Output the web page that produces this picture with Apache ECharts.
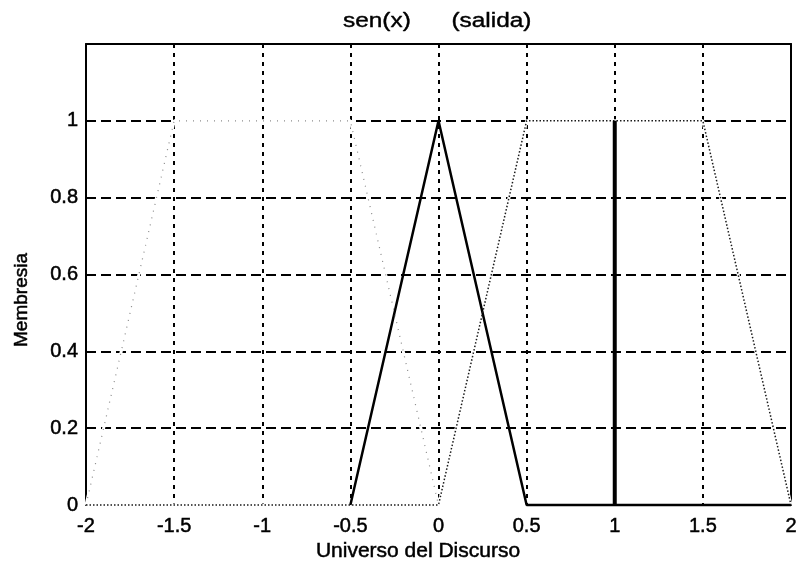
<!DOCTYPE html>
<html>
<head>
<meta charset="utf-8">
<script src="https://cdn.jsdelivr.net/npm/echarts@6/dist/echarts.min.js"></script>
<style>
  html, body { margin: 0; padding: 0; background: #fff; }
  #chart { width: 804px; height: 561px; }
</style>
</head>
<body>
<div id="chart"></div>
<script>
// Funciones de pertenencia de la salida, universo del discurso [-2, 2]
const mfIzqX = [-2, -1.5, -0.5, 0];          // trapecio izquierdo
const mfIzqY = [0, 1, 1, 0];
const mfCentroX = [-0.5, 0, 0.5, 2];         // triángulo central
const mfCentroY = [0, 1, 0, 0];
const mfDerX = [-2, 0, 0.5, 1.5, 2];         // trapecio derecho
const mfDerY = [0, 0, 1, 1, 0];
const singX = [1, 1];                        // singleton en x = 1
const singY = [0, 1];

const xTicks = [-2, -1.5, -1, -0.5, 0, 0.5, 1, 1.5, 2];
const yTicks = [0, 0.2, 0.4, 0.6, 0.8, 1];

const titulo = 'sen(x)      (salida)';
const etiquetaX = 'Universo del Discurso';
const etiquetaY = 'Membresia';

const pares = (xs, ys) => xs.map((x, i) => [x, ys[i]]);
const FONT = 'Liberation Sans, Arial, sans-serif';
const trazo = { textBorderColor: '#000', textBorderWidth: 0.5 };

const chart = echarts.init(document.getElementById('chart'), null, { renderer: 'canvas' });

const base = { type: 'line', showSymbol: false, animation: false, clip: false, silent: true };

chart.setOption({
  backgroundColor: '#fff',
  animation: false,
  grid: { left: 86, right: 13, top: 44, bottom: 56 },
  xAxis: [{
    type: 'value', min: xTicks[0], max: xTicks[xTicks.length - 1], interval: 0.5,
    axisLine: { show: false }, axisTick: { show: false },
    axisLabel: Object.assign({ color: '#000', fontFamily: FONT, fontSize: 20, margin: 11,
      formatter: v => String(v) }, trazo),
    splitLine: { show: true, showMinLine: false, showMaxLine: false,
      lineStyle: { color: '#000', width: 2, type: [4, 5] } }
  }, {
    type: 'value', position: 'top', min: -2, max: 2,
    axisLine: { show: true, onZero: false, lineStyle: { color: '#000', width: 2 } },
    axisTick: { show: false }, axisLabel: { show: false }, splitLine: { show: false }
  }],
  yAxis: [{
    type: 'value', min: 0, max: 1.2, interval: 0.2,
    axisLine: { show: true, onZero: false, lineStyle: { color: '#000', width: 2 } },
    axisTick: { show: false },
    axisLabel: Object.assign({ color: '#000', fontFamily: FONT, fontSize: 20, margin: 8,
      formatter: v => (yTicks.some(t => Math.abs(t - v) < 1e-9) ? String(+v.toFixed(1)) : '') }, trazo),
    splitLine: { show: true, showMinLine: false, showMaxLine: false,
      lineStyle: { color: '#000', width: 2, type: [10, 5] } }
  }, {
    type: 'value', position: 'right', min: 0, max: 1.2,
    axisLine: { show: true, onZero: false, lineStyle: { color: '#000', width: 2 } },
    axisTick: { show: false }, axisLabel: { show: false }, splitLine: { show: false }
  }],
  series: [
    // fondo blanco que tapa la rejilla bajo los trapecios
    Object.assign({}, base, { data: pares(mfIzqX, mfIzqY), z: 1,
      lineStyle: { color: '#fff', width: 3 } }),
    Object.assign({}, base, { data: pares(mfDerX, mfDerY), z: 1,
      lineStyle: { color: '#fff', width: 3 } }),
    // triángulo central
    Object.assign({}, base, { data: pares(mfCentroX, mfCentroY), z: 2,
      lineStyle: { color: '#000', width: 2.5 } }),
    // trapecio izquierdo (trazo tenue)
    Object.assign({}, base, { data: pares(mfIzqX, mfIzqY), z: 3,
      lineStyle: { color: '#8a8a8a', width: 1.2, type: [1, 6] } }),
    // trapecio derecho (punteado)
    Object.assign({}, base, { data: pares(mfDerX, mfDerY), z: 3,
      lineStyle: { color: '#1a1a1a', width: 1.5, type: [1.5, 2] } }),
    // singleton
    Object.assign({}, base, { data: pares(singX, singY), z: 4,
      lineStyle: { color: '#000', width: 4 } })
  ],
  graphic: [
    { type: 'text', x: 343, y: 21, scaleX: 1.22, z: 10,
      style: Object.assign({ text: titulo, font: '20px ' + FONT, fill: '#000', align: 'left', verticalAlign: 'middle' }, { stroke: '#000', lineWidth: 0.4 }) },
    { type: 'text', x: 418, y: 551, z: 10,
      style: { text: etiquetaX, font: '21px ' + FONT, fill: '#000', align: 'center', verticalAlign: 'middle', stroke: '#000', lineWidth: 0.5 } },
    { type: 'text', x: 22, y: 300, rotation: Math.PI / 2, z: 10,
      style: { text: etiquetaY, font: '19px ' + FONT, fill: '#000', align: 'center', verticalAlign: 'middle', stroke: '#000', lineWidth: 0.5 } }
  ]
});
</script>
</body>
</html>
